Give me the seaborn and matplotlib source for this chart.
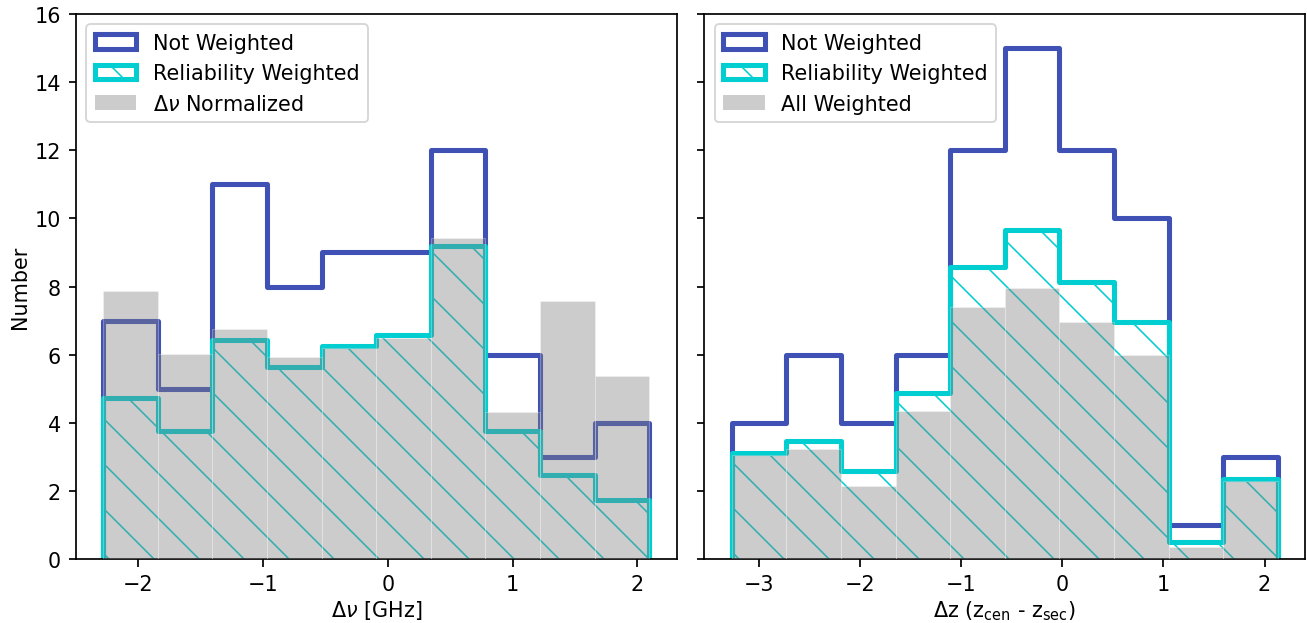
import numpy as np
import pandas as pd
import matplotlib
matplotlib.use("Agg")
import matplotlib.pyplot as plt
import seaborn as sns
from matplotlib.patches import Patch

# ---- data ----
nu_edges = [-2.28, -1.842, -1.405, -0.967, -0.530, -0.092, 0.346, 0.783, 1.221, 1.658, 2.096]
nu_not_weighted = [7, 5, 11, 8, 9, 9, 12, 6, 3, 4]
nu_rel_weighted = [4.72, 3.76, 6.44, 5.63, 6.24, 6.57, 9.20, 3.77, 2.47, 1.74]
nu_normalized = [7.86, 6.03, 6.75, 5.92, 6.20, 6.50, 9.42, 4.31, 7.57, 5.36]

z_edges = [-3.27, -2.73, -2.19, -1.65, -1.11, -0.57, -0.03, 0.51, 1.05, 1.59, 2.13]
z_not_weighted = [4, 6, 4, 6, 12, 15, 12, 10, 1, 3]
z_rel_weighted = [3.10, 3.47, 2.59, 4.86, 8.56, 9.67, 8.14, 6.97, 0.49, 2.35]
z_all_weighted = [3.05, 3.23, 2.13, 4.35, 7.39, 7.96, 6.97, 6.00, 0.34, 2.30]

labels_left = ["Not Weighted", "Reliability Weighted", r"$\Delta\nu$ Normalized"]
labels_right = ["Not Weighted", "Reliability Weighted", "All Weighted"]
xlabel_left = r"$\Delta\nu$ [GHz]"
xlabel_right = r"$\Delta$z (z$_{\rm cen}$ - z$_{\rm sec}$)"
ylabel = "Number"

BLUE = "#3F51B5"
CYAN = "#00CED1"
LW = 1.35
HATCH = "\\\\"

DPI = 270
plt.rcParams.update({
    "font.family": ["DejaVu Sans"],
    "font.size": 5.55,
    "axes.linewidth": 0.46,
    "xtick.major.width": 0.46,
    "ytick.major.width": 0.46,
    "xtick.major.size": 2.0,
    "ytick.major.size": 2.0,
    "xtick.major.pad": 2.0,
    "ytick.major.pad": 2.0,
    "hatch.color": CYAN,
    "hatch.linewidth": 0.42,
    "legend.fontsize": 5.55,
    "axes.labelpad": 1.2,
})

fig, axes = plt.subplots(1, 2, sharey=True, figsize=(1307 / DPI, 624 / DPI), dpi=DPI)
fig.subplots_adjust(left=76 / 1307, right=1305 / 1307, bottom=1 - 560 / 624, top=1 - 15 / 624,
                    wspace=0.0465)


def close_step(line):
    """Let the step outline drop to the baseline at both ends (like histtype='step')."""
    x, y = line.get_data()
    x = np.asarray(x, dtype=float)
    y = np.asarray(y, dtype=float)
    line.set_data(np.r_[x[0], x, x[-1]], np.r_[0.0, y, 0.0])


def panel(ax, edges, nw, rw, gw, labels, xlabel):
    e = np.asarray(edges, dtype=float)
    centers = (e[:-1] + e[1:]) / 2
    bins = list(edges)
    df = pd.DataFrame({"x": centers, "nw": nw, "rw": rw, "gw": gw})
    # hatched region of reliability-weighted histogram
    sns.histplot(data=df, x="x", weights="rw", bins=bins, element="step", fill=True,
                 color=CYAN, facecolor="none", edgecolor=CYAN, hatch=HATCH, linewidth=0, ax=ax)
    # not weighted outline
    sns.histplot(data=df, x="x", weights="nw", bins=bins, element="step", fill=False,
                 color=BLUE, linewidth=LW, ax=ax)
    close_step(ax.lines[-1])
    # reliability weighted outline
    sns.histplot(data=df, x="x", weights="rw", bins=bins, element="step", fill=False,
                 color=CYAN, linewidth=LW, ax=ax)
    close_step(ax.lines[-1])
    # gray normalized bars on top (semi-transparent)
    sns.histplot(data=df, x="x", weights="gw", bins=bins, element="bars", fill=True,
                 color="gray", alpha=0.4, edgecolor=(1, 1, 1, 0.3), linewidth=0.25,
                 zorder=3, ax=ax)
    handles = [
        Patch(facecolor="none", edgecolor=BLUE, linewidth=LW, label=labels[0]),
        Patch(facecolor="none", edgecolor=CYAN, hatch=HATCH, linewidth=LW, label=labels[1]),
        Patch(facecolor="gray", alpha=0.4, edgecolor="none", label=labels[2]),
    ]
    leg = ax.legend(handles=handles, loc="upper left")
    leg.get_frame().set_linewidth(0.5)
    leg.set_zorder(6)
    ax.set_xlabel(xlabel)
    ax.set_ylabel("")


panel(axes[0], nu_edges, nu_not_weighted, nu_rel_weighted, nu_normalized, labels_left, xlabel_left)
panel(axes[1], z_edges, z_not_weighted, z_rel_weighted, z_all_weighted, labels_right, xlabel_right)

axes[0].set_ylim(0, 16)
axes[0].set_yticks(range(0, 17, 2))
axes[0].set_ylabel(ylabel, labelpad=1.3)
axes[0].set_xticks([-2, -1, 0, 1, 2])
axes[1].set_xticks([-3, -2, -1, 0, 1, 2])

fig.savefig("out.png", dpi=DPI)
